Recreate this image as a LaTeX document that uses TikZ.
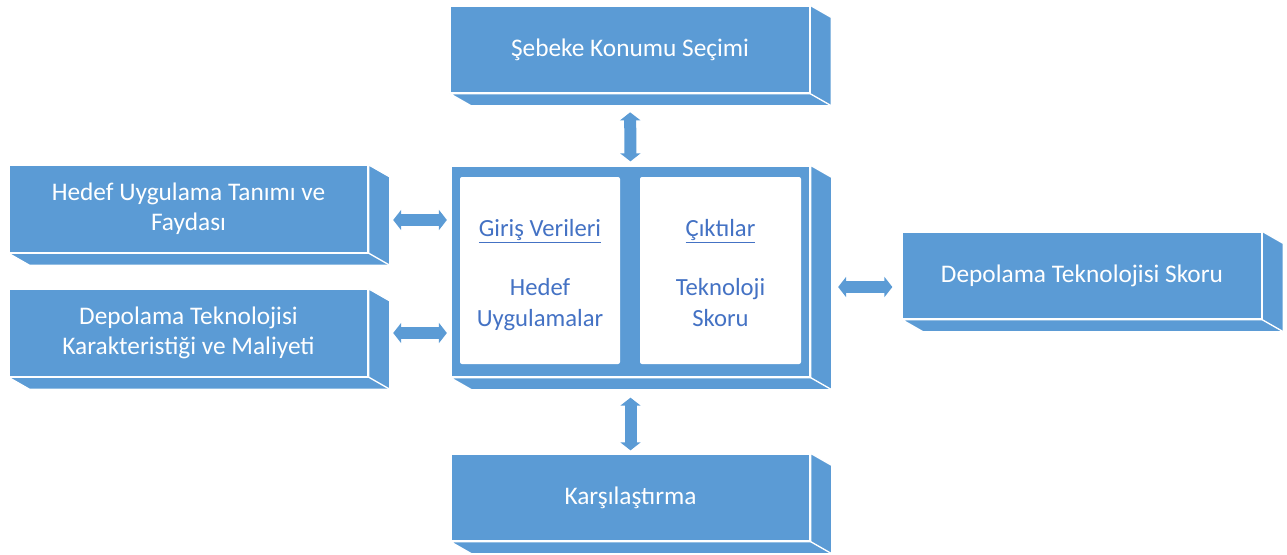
\documentclass[tikz,border=0pt]{standalone}
\usepackage{fontspec}
\setmainfont{Carlito}
\usetikzlibrary{arrows.meta,calc}
\definecolor{boxblue}{RGB}{91,155,213}
\definecolor{txtblue}{RGB}{68,114,196}

\begin{document}
\begin{tikzpicture}[x=0.75pt,y=0.75pt,yscale=-1,xscale=1,
  box/.style={fill=boxblue, draw=white, line width=1pt, minimum width=269.25pt, minimum height=65.25pt, inner sep=0pt, text=white, align=center, font=\fontsize{19}{22.5}\selectfont},
  face/.style={fill=boxblue, draw=white, line width=1pt, line join=round},
  panel/.style={fill=white, draw=none, rounded corners=1.5pt, minimum width=120pt, minimum height=140.25pt, inner sep=0pt},
  paneltext/.style={text=txtblue, align=center, font=\fontsize{18.5}{23.25}\selectfont},
  dblarrow/.style={draw=boxblue, line width=9pt, {Triangle[width=15pt,length=6pt]}-{Triangle[width=15pt,length=6pt]}}]
\useasboundingbox (0,0) rectangle (1287,554);

%Shape: Boxes (front faces)
\node[box] (secim) at (630,49.5) {Şebeke Konumu Seçimi};
\node[box] (hedef) at (188.5,209) {Hedef Uygulama Tanımı ve\\Faydası};
\node[box] (karak) at (188.5,333) {Depolama Teknolojisi\\Karakteristiği ve Maliyeti};
\node[box, minimum height=158.25pt] (model) at (630.5,271.5) {};
\node[box] (skor) at (1082,275.5) {Depolama Teknolojisi Skoru};
\node[box] (kars) at (630.5,497.5) {Karşılaştırma};

%Shape: side and bottom faces
\foreach \n in {secim,hedef,karak,model,skor,kars}{
  \filldraw[face] (\n.north east) -- ($(\n.north east)+(21,12)$) -- ($(\n.south east)+(21,12)$) -- ($(\n.south west)+(21,12)$) -- (\n.south west) -- (\n.south east) -- cycle;
  \draw[face, fill=none] (\n.south east) -- ++(21,12);
}

%Shape: inner panels
\node[panel] (giris) at (540,270.5) {};
\node[panel, minimum width=120.75pt] (cikti) at (720.5,270.5) {};

% Text Node
\node[paneltext] (giristxt) at (540,275) {\underline{Giriş Verileri}\\[21pt]Hedef\\Uygulamalar};
% Text Node
\node[paneltext] (ciktitxt) at (720.5,273) {\underline{Çıktılar}\\[21pt]Teknoloji\\Skoru};

%Arrows
\draw[dblarrow, shorten <=14pt, shorten >=3pt] (secim.south) -- (model.north);
\draw[dblarrow, shorten <=15pt, shorten >=2.25pt] (model.south) -- (kars.north);
\draw[dblarrow, shorten <=18.4pt, shorten >=2.6pt] ($(hedef.east)+(0,11)$) -- ($(hedef.east -| model.west)+(0,11)$);
\draw[dblarrow, shorten <=18.4pt, shorten >=2.6pt] (karak.east) -- (karak.east -| model.west);
\draw[dblarrow, shorten <=20.6pt, shorten >=7.1pt] ($(model.east)+(0,15.5)$) -- ($(skor.west)+(0,11.5)$);

\end{tikzpicture}
\end{document}
